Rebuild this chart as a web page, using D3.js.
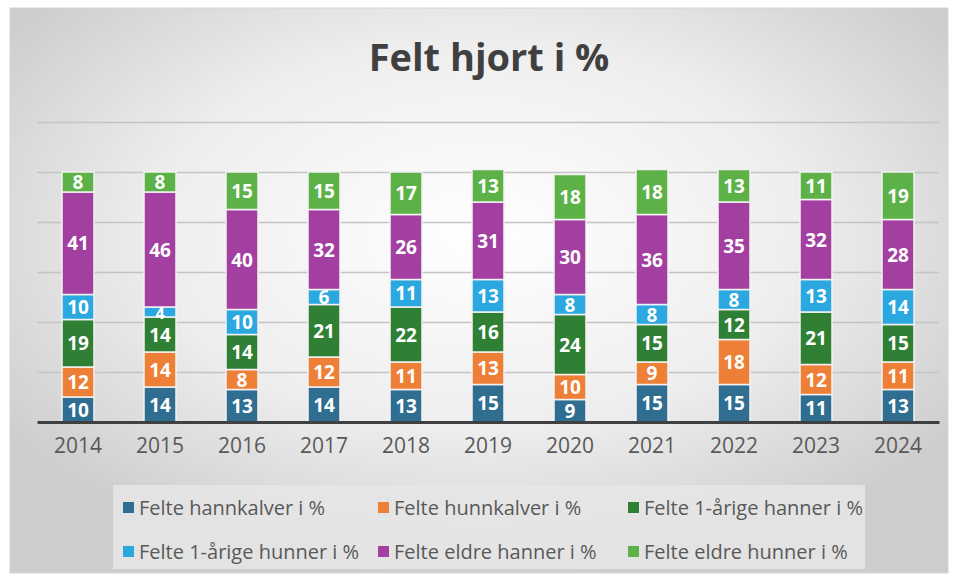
<!DOCTYPE html>
<html>
<head>
<meta charset="utf-8">
<script src="https://cdn.jsdelivr.net/npm/d3@7"></script>
<style>
  body { margin: 0; background: #fff; }
  svg { display: block; }
</style>
</head>
<body>
<svg width="954" height="581"></svg>
<script>
// data
const years = ["2014", "2015", "2016", "2017", "2018", "2019", "2020", "2021", "2022", "2023", "2024"];
const seriesNames = ["Felte hannkalver i %", "Felte hunnkalver i %", "Felte 1-årige hanner i %",
                     "Felte 1-årige hunner i %", "Felte eldre hanner i %", "Felte eldre hunner i %"];
const hannkalver   = [10, 14, 13, 14, 13, 15, 9, 15, 15, 11, 13];
const hunnkalver   = [12, 14, 8, 12, 11, 13, 10, 9, 18, 12, 11];
const hanner1      = [19, 14, 14, 21, 22, 16, 24, 15, 12, 21, 15];
const hunner1      = [10, 4, 10, 6, 11, 13, 8, 8, 8, 13, 14];
const eldreHanner  = [41, 46, 40, 32, 26, 31, 30, 36, 35, 32, 28];
const eldreHunner  = [8, 8, 15, 15, 17, 13, 18, 18, 13, 11, 19];
const yTicks = [0, 20, 40, 60, 80, 100, 120];

const colors = ["#2f6e91", "#ee7f36", "#2f7f35", "#2aa8df", "#a33fa1", "#5db247"];
const seriesVals = [hannkalver, hunnkalver, hanner1, hunner1, eldreHanner, eldreHunner];

const rows = years.map((y, i) => {
    let r = {year: y};
    seriesNames.forEach((s, k) => r[s] = seriesVals[k][i]);
    return r;
});
const stacked = d3.stack().keys(seriesNames)(rows);

let svg = d3.select("svg");

// background
let defs = svg.append("defs");
let grad = defs.append("radialGradient").attr("id", "bg")
    .attr("cx", "50%").attr("cy", "40%").attr("r", "62%");
grad.append("stop").attr("offset", "0%").attr("stop-color", "#ffffff");
grad.append("stop").attr("offset", "55%").attr("stop-color", "#eeeeee");
grad.append("stop").attr("offset", "100%").attr("stop-color", "#cdcdcd");

svg.append("rect").attr("x", 10).attr("y", 8).attr("width", 938).attr("height", 565)
    .attr("fill", "url(#bg)").attr("stroke", "#d6d6d6").attr("stroke-width", 1);

svg.append("text")
    .attr("x", 489).attr("y", 71)
    .attr("text-anchor", "middle")
    .attr("font-family", "'Open Sans', sans-serif")
    .attr("font-weight", "bold")
    .attr("font-size", 38)
    .attr("fill", "#404040")
    .text("Felt hjort i %");

const margin = {left: 37, right: 15, top: 122, bottom: 159};
const width = 954 - margin.left - margin.right;
const height = 581 - margin.top - margin.bottom;

let g = svg.append("g").attr("transform", "translate(" + margin.left + "," + margin.top + ")");

let x = d3.scaleBand().domain(years).range([0, width]).paddingInner(0.61).paddingOuter(0.305);
let y = d3.scaleLinear().domain([0, 120]).range([height, 0]);

// gridlines
g.append("g")
    .call(d3.axisLeft(y).tickValues(yTicks.slice(1)).tickSize(-width).tickFormat(""))
    .call(a => a.select(".domain").remove())
    .selectAll("line").attr("stroke", "#c4c4c4").attr("stroke-width", 1.5);

// bars
let layers = g.selectAll(".layer").data(stacked).enter().append("g")
    .attr("fill", (d, i) => colors[i]);

layers.selectAll("rect").data(d => d).enter().append("rect")
    .attr("x", d => x(d.data.year))
    .attr("width", x.bandwidth())
    .attr("y", d => y(d[1]))
    .attr("height", d => y(d[0]) - y(d[1]))
    .attr("stroke", "#f2f2f2")
    .attr("stroke-width", 1.5);

layers.selectAll("text").data(d => d).enter().append("text")
    .attr("x", d => x(d.data.year) + x.bandwidth() / 2)
    .attr("y", d => (y(d[0]) + y(d[1])) / 2 + 7)
    .attr("text-anchor", "middle")
    .attr("font-family", "'Open Sans', sans-serif")
    .attr("font-weight", "bold")
    .attr("font-size", d => (d[1] - d[0]) < 6 ? 16 : 19)
    .attr("fill", "#ffffff")
    .text(d => d[1] - d[0]);

// x axis
let xAxis = g.append("g")
    .attr("transform", "translate(0," + height + ")")
    .call(d3.axisBottom(x).tickSize(0).tickPadding(16));
xAxis.select(".domain").attr("stroke", "#404040").attr("stroke-width", 3);
xAxis.selectAll("text")
    .attr("font-family", "'Open Sans', sans-serif")
    .attr("font-size", 21)
    .attr("fill", "#595959");

// legend
svg.append("rect").attr("x", 113).attr("y", 485).attr("width", 752).attr("height", 84)
    .attr("fill", "#e6e6e6").attr("opacity", 0.85);

const legendX = [123, 378, 628];
const legendY = [508, 552];
let legend = svg.selectAll(".legend").data(seriesNames).enter().append("g")
    .attr("transform", (d, i) => "translate(" + legendX[i % 3] + "," + legendY[Math.floor(i / 3)] + ")");
legend.append("rect").attr("x", 0).attr("y", -6).attr("width", 11).attr("height", 11)
    .attr("fill", (d, i) => colors[i]);
legend.append("text").attr("x", 16).attr("y", 7)
    .attr("font-family", "'Open Sans', sans-serif")
    .attr("font-size", 20)
    .attr("fill", "#595959")
    .text(d => d);
</script>
</body>
</html>
